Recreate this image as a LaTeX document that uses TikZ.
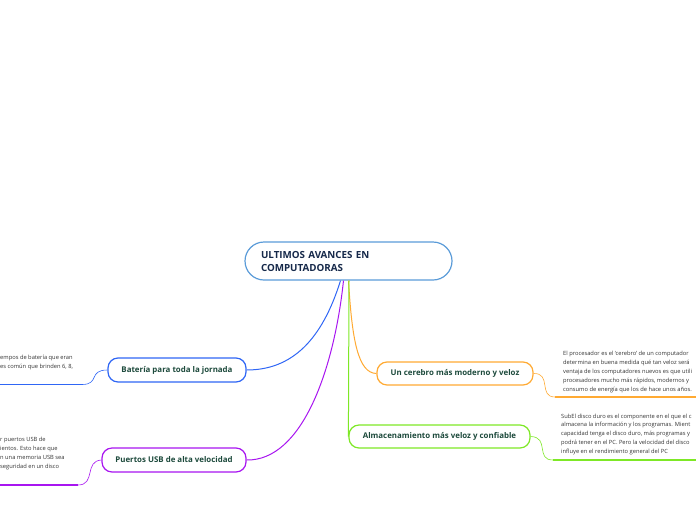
\documentclass[tikz,border=0pt]{standalone}
\usepackage{fontspec}
\setmainfont{Open Sans}
\definecolor{ctitle}{HTML}{16294A}
\definecolor{cbranch}{HTML}{1D4A3C}
\definecolor{csmall}{HTML}{333333}
\definecolor{ccenter}{HTML}{5A9BD8}
\definecolor{cblue}{HTML}{2F66F5}
\definecolor{cpurple}{HTML}{A815F0}
\definecolor{corange}{HTML}{FFAA33}
\definecolor{cgreen}{HTML}{7EE826}
\begin{document}
\begin{tikzpicture}[x=1pt,y=-1pt,
  branch/.style={draw, line width=1.2pt, rounded corners=10pt, minimum height=24pt,
    inner sep=0pt, fill=white, text=cbranch, font=\fontsize{7.9}{9}\selectfont\bfseries},
  small/.style={inner sep=0pt, align=left, text=csmall, font=\fontsize{5.75}{8.9}\selectfont},
  conn/.style={line width=1pt},
  subconn/.style={line width=0.6pt},
  uline/.style={line width=1.6pt}]
\useasboundingbox (0,0) rectangle (696,520);
\clip (0,0) rectangle (696,520);

% central node
\node[draw=ccenter, line width=1.2pt, rounded corners=19pt, minimum height=38pt,
  text width=175pt, inner xsep=16pt, inner ysep=0pt, align=left, text=ctitle,
  font=\fontsize{9.8}{13}\selectfont\bfseries] (center) at (348.5,261)
  {ULTIMOS AVANCES EN\\COMPUTADORAS};

% branches
\node[branch, draw=cblue, minimum width=138pt] (bat) at (177,370) {Batería para toda la jornada};
\node[branch, draw=cpurple, minimum width=144pt] (usb) at (174,460) {Puertos USB de alta velocidad};
\node[branch, draw=corange, minimum width=156pt, minimum height=23pt] (cer) at (455,373.5) {Un cerebro más moderno y veloz};
\node[branch, draw=cgreen, minimum width=181pt, minimum height=23pt] (alm) at (439.5,436.5) {Almacenamiento más veloz y confiable};

% main connectors
\draw[conn, cblue] ([xshift=-8pt]center.south) .. controls (322,340) and (292,370) .. (bat.east);
\draw[conn, cpurple] ([xshift=-5pt]center.south) .. controls (334,370) and (302,461) .. (usb.east);
\draw[conn, corange] ([xshift=0pt]center.south) .. controls (352,340) and (358,373) .. (cer.west);
\draw[conn, cgreen] ([xshift=0.5pt]center.south) -- (alm.west);

% sub-topic texts
\node[small, anchor=north west] (certxt) at (563,351)
  {El procesador es el `cerebro' de un computador\\
   determina en buena medida qué tan veloz será\\
   ventaja de los computadores nuevos es que utili\\
   procesadores mucho más rápidos, modernos y\\
   consumo de energía que los de hace unos años.};
\node[small, anchor=north west] (almtxt) at (561,413.5)
  {SubEl disco duro es el componente en el que el c\\
   almacena la información y los programas. Mient\\
   capacidad tenga el disco duro, más programas y\\
   podrá tener en el PC. Pero la velocidad del disco\\
   influye en el rendimiento general del PC};
\node[small, anchor=north west] (battxt) at (0,355)
  {empos de batería que eran\\
   es común que brinden 6, 8,};
\node[small, anchor=north west] (usbtxt) at (0,437)
  {r puertos USB de\\
   ientos. Esto hace que\\
   n una memoria USB sea\\
   seguridad en un disco};

% underline coordinates
\coordinate (cerL) at (555,397);
\coordinate (cerR) at (696,397);
\coordinate (almL) at (553,460);
\coordinate (almR) at (696,460);
\coordinate (batL) at (0,384.5);
\coordinate (batR) at (82,384.5);
\coordinate (usbL) at (0,485);
\coordinate (usbR) at (78,485);

% sub connectors and underlines
\draw[subconn, corange] (cer.east) .. controls (552,373) and (538,397) .. (cerL);
\draw[uline, corange] (cerL) -- (cerR);
\draw[subconn, cgreen] (alm.east) .. controls (550,437) and (535,460) .. (almL);
\draw[uline, cgreen] (almL) -- (almR);
\draw[subconn, cblue] (batR) .. controls (100,384.5) and (88,370) .. (bat.west);
\draw[uline, cblue] (batL) -- (batR);
\draw[subconn, cpurple] (usbR) .. controls (96,485) and (84,461) .. (usb.west);
\draw[uline, cpurple] (usbL) -- (usbR);
\end{tikzpicture}
\end{document}
